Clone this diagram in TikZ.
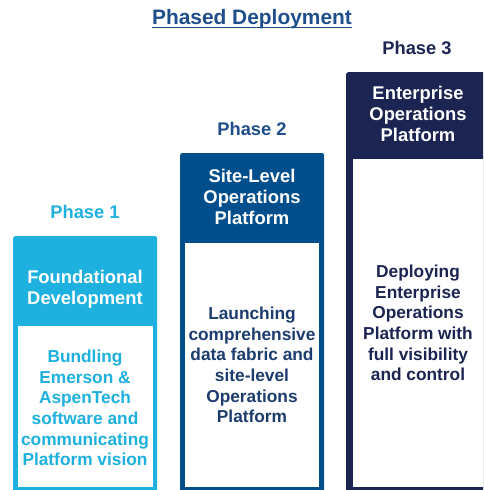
\documentclass[tikz,border=0pt]{standalone}
\usepackage{fontspec}
\setmainfont{Liberation Sans}
\definecolor{cyanP}{RGB}{30,176,222}
\definecolor{blueP}{RGB}{0,79,140}
\definecolor{navyP}{RGB}{28,36,82}
\definecolor{titleC}{RGB}{31,78,140}
\definecolor{bodyTwo}{RGB}{28,60,110}
\begin{document}
\begin{tikzpicture}[x=1pt,y=-1pt,
  outerbox/.style={rounded corners=2pt, inner sep=0, anchor=north west, minimum width=144pt},
  innerbox/.style={fill=white, inner sep=0, anchor=north west},
  phaselabel/.style={font=\fontsize{18.3}{21}\selectfont\bfseries, inner sep=0},
  head/.style={text=white, font=\fontsize{18.4}{21}\selectfont\bfseries, align=center, inner sep=0},
  body/.style={font=\fontsize{17.3}{20.6}\selectfont\bfseries, align=center, inner sep=0}]
\useasboundingbox (0,0) rectangle (483,490);
\clip (0,0) rectangle (483,490);
% title
\node[inner sep=0, text=titleC, font=\fontsize{20.9}{24}\selectfont\bfseries] (title) at (252,19) {Phased Deployment};
\draw[titleC, line width=1.4pt] ([yshift=-3pt]title.base west) -- ([yshift=-3pt]title.base east);
% phase 1
\node[outerbox, fill=cyanP, minimum height=259pt] (box1) at (13,236) {};
\node[innerbox, minimum width=135pt, minimum height=161pt] (in1) at (18,326) {};
\node[phaselabel, text=cyanP] (lab1) at (85,212) {Phase 1};
\node[head] (head1) at (85,289) {Foundational\\Development};
\node[body, text=cyanP] (body1) at (85,408) {Bundling\\Emerson \&\\AspenTech\\software and\\communicating\\Platform vision};
% phase 2
\node[outerbox, fill=blueP, minimum height=342pt] (box2) at (180,153) {};
\node[innerbox, minimum width=134pt, minimum height=244pt] (in2) at (185,243) {};
\node[phaselabel, text=titleC] (lab2) at (252,129) {Phase 2};
\node[head] (head2) at (252,197) {Site-Level\\Operations\\Platform};
\node[body, text=bodyTwo] (body2) at (252,365) {Launching\\comprehensive\\data fabric and\\site-level\\Operations\\Platform};
% phase 3
\node[outerbox, fill=navyP, minimum height=423pt] (box3) at (346,72) {};
\node[innerbox, minimum width=135pt, minimum height=328pt] (in3) at (353,159) {};
\node[phaselabel, text=navyP] (lab3) at (417,48) {Phase 3};
\node[head] (head3) at (418,114) {Enterprise\\Operations\\Platform};
\node[body, text=navyP] (body3) at (418,323) {Deploying\\Enterprise\\Operations\\Platform with\\full visibility\\and control};
\end{tikzpicture}
\end{document}
